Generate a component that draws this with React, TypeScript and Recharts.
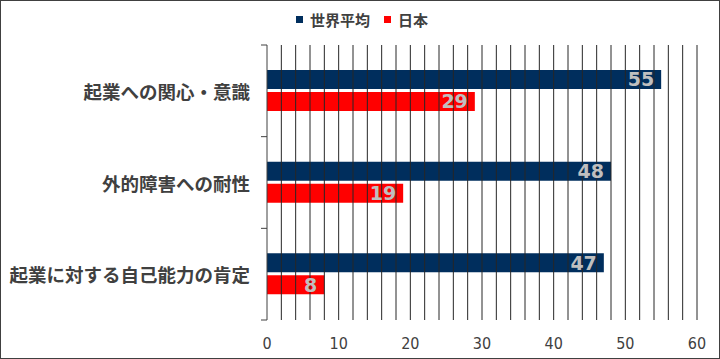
import React from 'react';
import { BarChart, Bar, XAxis, YAxis, ReferenceLine, LabelList } from 'recharts';

const categories = ['起業への関心・意識', '外的障害への耐性', '起業に対する自己能力の肯定'];
const worldAverage = [55, 48, 47];
const japan = [29, 19, 8];
const seriesNames = ['世界平均', '日本'];
const xTicks = [0, 10, 20, 30, 40, 50, 60];
const gridValues = [2, 4, 6, 8, 10, 12, 14, 16, 18, 20, 22, 24, 26, 28, 30, 32, 34, 36, 38, 40, 42, 44, 46, 48, 50, 52, 54, 56, 58, 60];

const NAVY = '#002E5D';
const RED = '#FF0000';
const TEXT = '#404040';

const data = categories.map((name, i) => ({ name, world: worldAverage[i], japan: japan[i] }));

const W = 720;
const H = 359;
const margin = { top: 45, right: 23, bottom: 0, left: 0 };
const xAxisHeight = 39;
const bandHalf = (H - margin.top - margin.bottom - xAxisHeight) / categories.length / 2;

const CategoryTick = (props: any) => {
  const { x, y, payload, index } = props;
  const half = payload && payload.offset ? payload.offset : bandHalf;
  const ax = x + 17;
  return (
    <g>
      <line x1={ax - 6} x2={ax} y1={y - half} y2={y - half} stroke={TEXT} strokeWidth={1} />
      {index === categories.length - 1 && (
        <line x1={ax - 6} x2={ax} y1={y + half} y2={y + half} stroke={TEXT} strokeWidth={1} />
      )}
      <text
        x={x}
        y={y}
        textAnchor="end"
        dominantBaseline="central"
        fill={TEXT}
        style={{ fontFamily: '"Noto Sans CJK JP", sans-serif', fontWeight: 700, fontSize: 18.5 }}
      >
        {payload.value}
      </text>
    </g>
  );
};

const Legendish = () => (
  <div
    style={{
      position: 'absolute',
      top: 8,
      left: 0,
      width: W,
      height: 22,
      display: 'flex',
      justifyContent: 'center',
      alignItems: 'center',
      fontFamily: '"Noto Sans CJK JP", sans-serif',
      fontWeight: 700,
      fontSize: 15,
      color: TEXT,
      paddingLeft: 4,
      boxSizing: 'border-box',
    }}
  >
    {seriesNames.map((n, i) => (
      <span key={n} style={{ display: 'flex', alignItems: 'center', marginRight: i === 0 ? 14 : 0 }}>
        <span style={{ width: 7, height: 7, background: i === 0 ? NAVY : RED, marginRight: 7, display: 'inline-block' }} />
        {n}
      </span>
    ))}
  </div>
);

export default function App() {
  return (
    <div style={{ position: 'absolute', left: 0, top: 0, width: W, height: H, background: '#fff' }}>
      <BarChart width={W} height={H} data={data} layout="vertical" margin={margin} barSize={19} barGap={3}>
        {gridValues.map((v) => (
          <ReferenceLine key={v} x={v} stroke="#262626" strokeWidth={1} ifOverflow="visible" />
        ))}
        <XAxis
          type="number"
          domain={[0, 60]}
          ticks={xTicks}
          axisLine={false}
          tickLine={false}
          height={xAxisHeight}
          tickSize={6}
          tickMargin={12}
          tick={{ fill: TEXT, fontSize: 16, fontFamily: '"DejaVu Sans Condensed", "DejaVu Sans", sans-serif' }}
        />
        <YAxis
          type="category"
          dataKey="name"
          width={267}
          tickLine={false}
          tickSize={0}
          tickMargin={17}
          axisLine={{ stroke: TEXT }}
          tick={<CategoryTick />}
        />
        <Bar dataKey="world" name={seriesNames[0]} fill={NAVY} isAnimationActive={false}>
          <LabelList
            dataKey="world"
            position="insideRight"
            offset={7}
            fill="#BFBFBF"
            style={{ fontFamily: '"DejaVu Sans", sans-serif', fontWeight: 700, fontSize: 19 }}
          />
        </Bar>
        <Bar dataKey="japan" name={seriesNames[1]} fill={RED} isAnimationActive={false}>
          <LabelList
            dataKey="japan"
            position="insideRight"
            offset={7}
            fill="#BFBFBF"
            style={{ fontFamily: '"DejaVu Sans", sans-serif', fontWeight: 700, fontSize: 19 }}
          />
        </Bar>
      </BarChart>
      <Legendish />
      <div
        style={{
          position: 'absolute',
          left: 0,
          top: 0,
          width: W,
          height: H,
          border: '1px solid #404040',
          boxSizing: 'border-box',
          pointerEvents: 'none',
        }}
      />
    </div>
  );
}
